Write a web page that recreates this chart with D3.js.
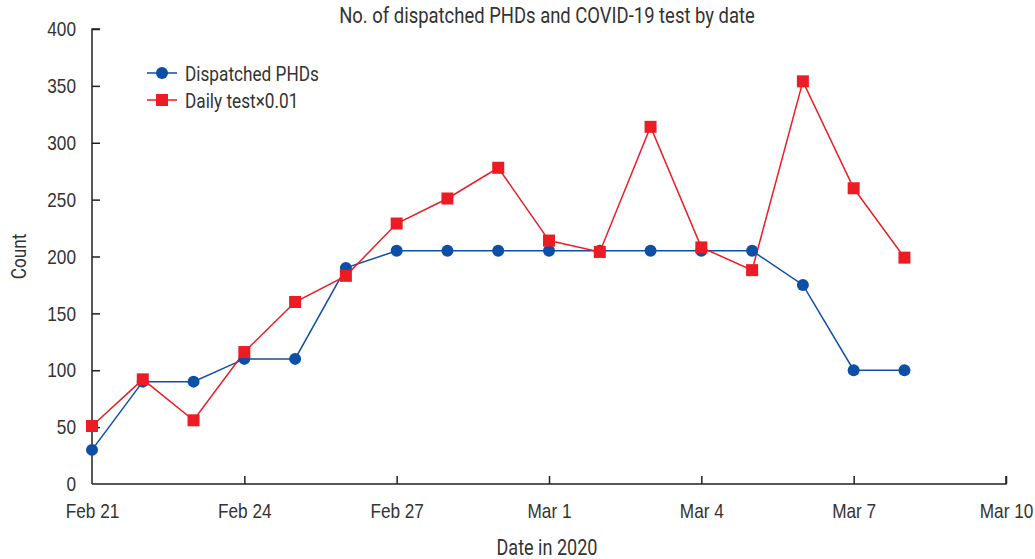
<!DOCTYPE html>
<html>
<head>
<meta charset="utf-8">
<script src="https://cdn.jsdelivr.net/npm/d3@7"></script>
<style>
  body { margin: 0; background: #fff; }
  svg { display: block; font-family: "Roboto", "Liberation Sans", sans-serif; }
</style>
</head>
<body>
<svg id="chart"></svg>
<script>
const width = 1035;
const height = 559;

const dates = ["2020-02-21","2020-02-22","2020-02-23","2020-02-24","2020-02-25","2020-02-26",
  "2020-02-27","2020-02-28","2020-02-29","2020-03-01","2020-03-02","2020-03-03",
  "2020-03-04","2020-03-05","2020-03-06","2020-03-07","2020-03-08"];
const dispatched = [30, 90, 90, 110, 110, 190, 205, 205, 205, 205, 205, 205, 205, 205, 175, 100, 100];
const dailyTest = [51, 92, 56, 116, 160, 183, 229, 251, 278, 214, 204, 314, 208, 188, 354, 260, 199];
const yTicks = [0, 50, 100, 150, 200, 250, 300, 350, 400];
const xTickDates = ["2020-02-21","2020-02-24","2020-02-27","2020-03-01","2020-03-04","2020-03-07","2020-03-10"];

const parse = d3.utcParse("%Y-%m-%d");
const blue = "#0d4ea6";
const red = "#ed1c24";
const textColor = "#333";
const squeeze = 0.82; // no condensed face installed, so narrow the glyphs

const margin = {top: 29, right: 29, bottom: 75, left: 92};

const svg = d3.select("#chart")
    .attr("width", width)
    .attr("height", height);

const x = d3.scaleUtc()
    .domain([parse("2020-02-21"), parse("2020-03-10")])
    .range([margin.left, width - margin.right]);

const y = d3.scaleLinear()
    .domain([0, 400])
    .range([height - margin.bottom, margin.top]);

// move x/y into a transform so the text can be squeezed around its anchor
function condense(sel) {
  sel.each(function() {
    const t = d3.select(this);
    const tx = +t.attr("x") || 0, ty = +t.attr("y") || 0;
    t.attr("x", 0).attr("y", 0)
     .attr("transform", `translate(${tx},${ty}) scale(${squeeze},1)`);
  });
}

// axes
const xAxis = svg.append("g")
    .attr("transform", `translate(0,${height - margin.bottom})`)
    .call(d3.axisBottom(x)
        .tickValues(xTickDates.map(parse))
        .tickSize(-8)
        .tickPadding(19)
        .tickFormat(d3.utcFormat("%b %-d")));
xAxis.selectAll(".tick").filter((d, i) => i === 0).select("line").remove();

const yAxis = svg.append("g")
    .attr("transform", `translate(${margin.left},0)`)
    .call(d3.axisLeft(y)
        .tickValues(yTicks)
        .tickSize(-8)
        .tickPadding(16));
yAxis.selectAll(".tick").filter(d => d === 0).select("line").remove();

[xAxis, yAxis].forEach(a => {
  a.select(".domain").attr("stroke", "#222").attr("stroke-width", 1.5);
  a.selectAll(".tick line").attr("stroke", "#222").attr("stroke-width", 1.5);
  a.selectAll(".tick text").attr("fill", textColor).style("font-size", "21px").call(condense);
});
xAxis.select(".domain").attr("d", `M${margin.left},0H${width - margin.right}V-8`);
yAxis.select(".domain").attr("d", `M8,${margin.top}H0V${height - margin.bottom}`);

// titles
svg.append("text")
    .attr("x", 547).attr("y", 23)
    .attr("text-anchor", "middle")
    .attr("fill", textColor)
    .style("font-size", "22.5px")
    .text("No. of dispatched PHDs and COVID-19 test by date")
    .call(condense);

svg.append("text")
    .attr("transform", `translate(26,${(margin.top + height - margin.bottom) / 2}) rotate(-90) scale(${squeeze},1)`)
    .attr("text-anchor", "middle")
    .attr("fill", textColor)
    .style("font-size", "21px")
    .text("Count");

svg.append("text")
    .attr("x", 547).attr("y", 555)
    .attr("text-anchor", "middle")
    .attr("fill", textColor)
    .style("font-size", "22px")
    .text("Date in 2020")
    .call(condense);

// lines
const line = d3.line()
    .x(d => x(d.date))
    .y(d => y(d.value));

const blueData = dates.map((d, i) => ({date: parse(d), value: dispatched[i]}));
const redData = dates.map((d, i) => ({date: parse(d), value: dailyTest[i]}));

svg.append("path")
    .datum(blueData)
    .attr("fill", "none")
    .attr("stroke", blue)
    .attr("stroke-width", 1.5)
    .attr("d", line);

svg.append("path")
    .datum(redData)
    .attr("fill", "none")
    .attr("stroke", red)
    .attr("stroke-width", 1.5)
    .attr("d", line);

svg.append("g")
  .selectAll("circle")
  .data(blueData)
  .join("circle")
    .attr("cx", d => x(d.date))
    .attr("cy", d => y(d.value))
    .attr("r", 6)
    .attr("fill", blue);

const sq = 12;
svg.append("g")
  .selectAll("rect")
  .data(redData)
  .join("rect")
    .attr("x", d => x(d.date) - sq / 2)
    .attr("y", d => y(d.value) - sq / 2)
    .attr("width", sq)
    .attr("height", sq)
    .attr("fill", red);

// legend
const legend = svg.append("g").attr("transform", "translate(147,73)");
legend.append("line").attr("x1", 0).attr("x2", 30).attr("stroke", blue).attr("stroke-width", 1.5);
legend.append("circle").attr("cx", 15).attr("r", 6).attr("fill", blue);
legend.append("text").attr("x", 38).attr("y", 8).attr("fill", textColor)
    .style("font-size", "21px").text("Dispatched PHDs").call(condense);

const leg2 = svg.append("g").attr("transform", "translate(147,100)");
leg2.append("line").attr("x1", 0).attr("x2", 30).attr("stroke", red).attr("stroke-width", 1.5);
leg2.append("rect").attr("x", 9).attr("y", -6).attr("width", sq).attr("height", sq).attr("fill", red);
leg2.append("text").attr("x", 38).attr("y", 8).attr("fill", textColor)
    .style("font-size", "21px").text("Daily test\u00d70.01").call(condense);
</script>
</body>
</html>
